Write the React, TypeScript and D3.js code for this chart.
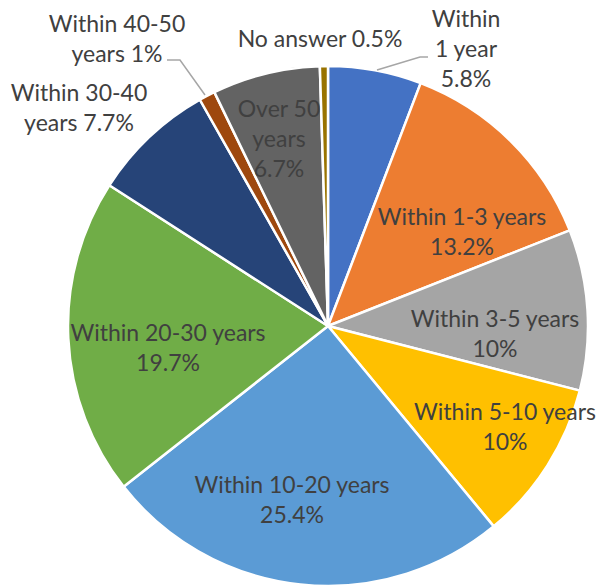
import React from "react";
import * as d3 from "d3";

const categories = [
  "Within 1 year",
  "Within 1-3 years",
  "Within 3-5 years",
  "Within 5-10 years",
  "Within 10-20 years",
  "Within 20-30 years",
  "Within 30-40 years",
  "Within 40-50 years",
  "Over 50 years",
  "No answer",
];
const values = [5.8, 13.2, 10, 10, 25.4, 19.7, 7.7, 1, 6.7, 0.5];
const colors = [
  "#4472C4", "#ED7D31", "#A5A5A5", "#FFC000", "#5B9BD5",
  "#70AD47", "#264478", "#9E480E", "#636363", "#997300",
];
const labelLines = [
  ["Within", "1 year", "5.8%"],
  ["Within 1-3 years", "13.2%"],
  ["Within 3-5 years", "10%"],
  ["Within 5-10 years", "10%"],
  ["Within 10-20 years", "25.4%"],
  ["Within 20-30 years", "19.7%"],
  ["Within 30-40", "years 7.7%"],
  ["Within 40-50", "years 1%"],
  ["Over 50", "years", "6.7%"],
  ["No answer 0.5%"],
];

// label layout (block centres), page coordinates
const labelPos: [number, number][] = [
  [466, 48], [462, 231], [495, 333], [505, 426], [292, 499],
  [168, 347], [79, 107], [117, 38], [279, 138], [320, 38],
];
// leader lines for outside labels
const leaders: { idx: number; pts: [number, number][] }[] = [
  { idx: 0, pts: [[377, 70], [420, 57], [428, 57]] },
  { idx: 7, pts: [[167, 60], [180, 60], [205, 95]] },
];

const W = 597, H = 587;
const cx = 328, cy = 326, R = 260;
const LH = 30;

export default function App() {
  const pie = d3.pie<number>().sort(null).value((d) => d).startAngle(0).endAngle(2 * Math.PI);
  const arcs = pie(values);
  const arcGen = d3.arc<d3.PieArcDatum<number>>().innerRadius(0).outerRadius(R);
  return (
    <svg width={W} height={H} style={{ position: "absolute", left: 0, top: 0, background: "#fff" }}
      fontFamily="Lato, 'Open Sans', sans-serif">
      <g transform={`translate(${cx},${cy})`}>
        {arcs.map((a, i) => (
          <path key={categories[i]} d={arcGen(a) || ""} fill={colors[i]} stroke="#fff" strokeWidth={2.5} strokeLinejoin="round" />
        ))}
      </g>
      {leaders.map((l) => (
        <polyline key={l.idx} points={l.pts.map((p) => p.join(",")).join(" ")} fill="none" stroke="#A6A6A6" strokeWidth={1.5} />
      ))}
      {labelLines.map((lines, i) => {
        const [x, y] = labelPos[i];
        const y0 = y - ((lines.length - 1) * LH) / 2;
        return (
          <text key={i} x={x} textAnchor="middle" fontSize={23} fill="#404040">
            {lines.map((s, j) => (
              <tspan key={j} x={x} y={y0 + j * LH} dominantBaseline="central">{s}</tspan>
            ))}
          </text>
        );
      })}
    </svg>
  );
}
